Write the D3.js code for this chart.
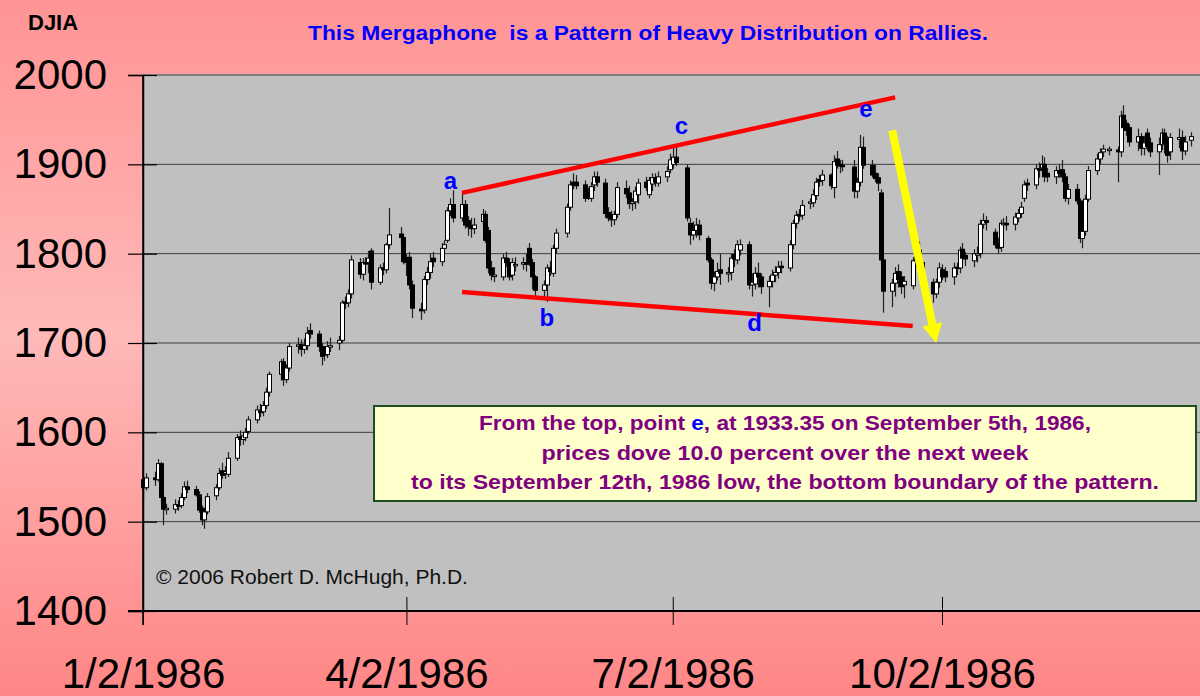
<!DOCTYPE html>
<html>
<head>
<meta charset="utf-8">
<script src="https://cdn.jsdelivr.net/npm/d3@7"></script>
<style>
  html, body { margin: 0; padding: 0; background: #ff9a9a; }
  svg { display: block; font-family: "Liberation Sans", Arial, sans-serif; }
</style>
</head>
<body>
<div id="content"></div>
<script>
// DJIA daily candles, 1986
const dates = [
  "01-02","01-03","01-06","01-07","01-08","01-09","01-10","01-13","01-14","01-15","01-16","01-17","01-20","01-21","01-22","01-23","01-24","01-27","01-28","01-29","01-30","01-31",
  "02-03","02-04","02-05","02-06","02-07","02-10","02-11","02-12","02-13","02-14","02-18","02-19","02-20","02-21","02-24","02-25","02-26","02-27","02-28",
  "03-03","03-04","03-05","03-06","03-07","03-10","03-11","03-12","03-13","03-14","03-17","03-18","03-19","03-20","03-21","03-24","03-25","03-26","03-27","03-31",
  "04-01","04-02","04-03","04-04","04-07","04-08","04-09","04-10","04-11","04-14","04-15","04-16","04-17","04-18","04-21","04-22","04-23","04-24","04-25","04-28","04-29","04-30",
  "05-01","05-02","05-05","05-06","05-07","05-08","05-09","05-12","05-13","05-14","05-15","05-16","05-19","05-20","05-21","05-22","05-23","05-27","05-28","05-29","05-30",
  "06-02","06-03","06-04","06-05","06-06","06-09","06-10","06-11","06-12","06-13","06-16","06-17","06-18","06-19","06-20","06-23","06-24","06-25","06-26","06-27","06-30",
  "07-01","07-02","07-03","07-07","07-08","07-09","07-10","07-11","07-14","07-15","07-16","07-17","07-18","07-21","07-22","07-23","07-24","07-25","07-28","07-29","07-30","07-31",
  "08-01","08-04","08-05","08-06","08-07","08-08","08-11","08-12","08-13","08-14","08-15","08-18","08-19","08-20","08-21","08-22","08-25","08-26","08-27","08-28","08-29",
  "09-02","09-03","09-04","09-05","09-08","09-09","09-10","09-11","09-12","09-15","09-16","09-17","09-18","09-19","09-22","09-23","09-24","09-25","09-26","09-29","09-30",
  "10-01","10-02","10-03","10-06","10-07","10-08","10-09","10-10","10-13","10-14","10-15","10-16","10-17","10-20","10-21","10-22","10-23","10-24","10-27","10-28","10-29","10-30","10-31",
  "11-03","11-04","11-05","11-06","11-07","11-10","11-11","11-12","11-13","11-14","11-17","11-18","11-19","11-20","11-21","11-24","11-25","11-26","11-28",
  "12-01","12-02","12-03","12-04","12-05","12-08","12-09","12-10","12-11","12-12","12-15","12-16","12-17","12-18","12-19","12-22","12-23","12-24","12-26"
];
const opens = [
  1547,1538,1549,1547,1565,1527,1514,1514,1519,1518,1527,1539,1536,1530,1515,1502,1511,1529,1538,1557,1554,1553,
  1571,1595,1592,1594,1601,1614,1624,1623,1630,1645,1665,1679,1659,1672,1698,1698,1693,1697,1714,
  1710,1696,1688,1687,1697,1700,1703,1746,1745,1755,1790,1777,1790,1790,1803,1768,1784,1782,1810,1822,
  1818,1795,1796,1765,1738,1737,1771,1779,1795,1791,1806,1815,1848,1855,1840,1855,1837,1831,1828,1836,1844,1826,
  1784,1776,1774,1795,1790,1776,1788,1790,1790,1806,1790,1774,1759,1765,1784,1778,1806,1823,1852,1880,1880,
  1877,1868,1862,1877,1886,1879,1846,1843,1838,1844,1873,1868,1856,1858,1866,1880,1866,1878,1885,1879,1886,
  1894,1900,1908,1896,1834,1821,1826,1832,1817,1793,1767,1774,1782,1778,1779,1799,1793,1804,1810,1765,1766,1778,
  1774,1763,1769,1776,1779,1786,1784,1810,1834,1844,1843,1857,1857,1865,1883,1882,1888,1874,1906,1900,1899,
  1897,1870,1880,1919,1899,1890,1885,1868,1793,1758,1767,1780,1774,1765,1764,1792,1804,1790,1767,1768,1755,
  1768,1782,1780,1774,1785,1784,1805,1798,1792,1800,1800,1833,1837,1824,1811,1807,1834,1834,1833,1840,1845,1862,1879,
  1877,1895,1896,1900,1890,1886,1893,1894,1886,1862,1872,1859,1817,1825,1861,1893,1906,1914,1917,
  1916,1914,1955,1946,1941,1925,1931,1918,1935,1924,1914,1922,1935,1928,1914,1928,1930,1915,1927
];
const highs = [
  1552,1554,1556,1570,1567,1530,1520,1525,1524,1532,1545,1546,1540,1534,1518,1515,1532,1542,1560,1566,1562,1578,
  1598,1602,1600,1605,1618,1630,1632,1635,1650,1668,1682,1683,1676,1700,1706,1704,1705,1718,1722,
  1714,1700,1692,1702,1706,1708,1748,1752,1760,1798,1795,1795,1796,1803,1806,1788,1790,1812,1851,1830,
  1822,1800,1802,1770,1745,1775,1785,1800,1802,1812,1815,1852,1862,1871,1868,1860,1842,1840,1840,1850,1848,1830,
  1792,1785,1800,1802,1795,1795,1796,1796,1800,1812,1794,1776,1770,1788,1792,1810,1828,1856,1882,1890,1888,
  1882,1874,1880,1892,1892,1884,1852,1848,1848,1880,1882,1876,1862,1875,1884,1886,1886,1890,1890,1892,1898,
  1912,1920,1920,1900,1840,1836,1840,1838,1820,1796,1780,1790,1800,1785,1800,1805,1815,1816,1814,1778,1785,1790,
  1778,1775,1782,1786,1792,1792,1815,1838,1848,1850,1860,1862,1872,1885,1888,1894,1890,1910,1915,1905,1905,
  1905,1885,1933,1931,1905,1900,1890,1872,1796,1772,1785,1788,1780,1775,1796,1810,1814,1793,1775,1772,1772,
  1790,1788,1785,1790,1790,1808,1812,1802,1805,1808,1838,1845,1842,1828,1818,1838,1840,1842,1846,1850,1858,1882,1884,
  1900,1902,1910,1908,1896,1898,1900,1905,1890,1878,1878,1862,1830,1866,1898,1912,1918,1922,1920,
  1920,1960,1966,1950,1945,1940,1935,1932,1940,1930,1930,1940,1940,1932,1935,1940,1938,1932,1936
];
const lows = [
  1525,1535,1540,1545,1520,1496,1508,1509,1512,1515,1524,1532,1528,1510,1496,1492,1508,1524,1535,1548,1548,1550,
  1568,1585,1586,1590,1598,1610,1617,1618,1626,1640,1658,1652,1655,1668,1688,1685,1688,1692,1705,
  1690,1675,1680,1683,1690,1692,1700,1738,1740,1750,1772,1770,1782,1778,1760,1765,1776,1778,1805,1810,
  1788,1775,1760,1728,1726,1733,1765,1772,1785,1786,1800,1812,1842,1835,1836,1828,1820,1818,1822,1830,1812,1778,
  1770,1768,1770,1785,1770,1770,1780,1782,1780,1786,1760,1750,1748,1746,1775,1774,1800,1818,1848,1872,1872,
  1858,1860,1858,1870,1875,1840,1836,1830,1832,1840,1862,1850,1848,1850,1856,1870,1862,1870,1875,1875,1880,
  1890,1895,1898,1836,1810,1815,1818,1815,1790,1760,1758,1770,1765,1768,1770,1785,1788,1798,1760,1752,1760,1762,
  1755,1740,1762,1768,1772,1778,1780,1805,1828,1836,1838,1850,1852,1860,1875,1876,1872,1862,1895,1890,1892,
  1862,1862,1875,1895,1885,1880,1870,1788,1734,1740,1752,1762,1755,1750,1760,1785,1785,1760,1758,1745,1750,
  1762,1770,1768,1765,1776,1778,1790,1786,1785,1790,1795,1828,1826,1806,1800,1802,1828,1826,1826,1835,1840,1858,1870,
  1872,1885,1888,1880,1880,1878,1885,1880,1858,1855,1855,1812,1806,1820,1858,1888,1900,1908,1910,
  1880,1908,1940,1932,1920,1915,1910,1910,1915,1908,1888,1916,1912,1902,1905,1918,1905,1910,1920
];
const closes = [
  1538,1549,1547,1565,1527,1514,1515,1519,1518,1527,1539,1536,1530,1513,1502,1511,1528,1538,1554,1552,1556,1571,
  1594,1592,1596,1600,1614,1625,1622,1630,1645,1665,1679,1659,1672,1696,1698,1693,1697,1711,1710,
  1696,1685,1687,1696,1697,1703,1745,1745,1755,1793,1777,1790,1789,1795,1768,1784,1782,1810,1821,1818,
  1791,1790,1765,1739,1736,1771,1779,1791,1791,1806,1810,1848,1855,1840,1855,1832,1830,1828,1832,1844,1815,1784,
  1776,1776,1795,1790,1774,1790,1788,1790,1788,1790,1774,1759,1765,1784,1780,1806,1823,1852,1877,1877,1876,
  1862,1862,1875,1886,1880,1845,1840,1838,1844,1874,1867,1856,1858,1870,1879,1874,1882,1885,1880,1886,1892,
  1905,1908,1902,1840,1821,1826,1832,1821,1793,1767,1774,1780,1778,1779,1795,1794,1810,1810,1765,1768,1778,1774,
  1763,1769,1776,1779,1785,1785,1810,1834,1843,1842,1854,1858,1866,1880,1881,1888,1876,1903,1899,1898,1898,
  1870,1880,1919,1899,1888,1884,1879,1793,1758,1767,1778,1771,1763,1769,1792,1798,1790,1767,1770,1755,1768,
  1784,1774,1774,1784,1784,1804,1795,1794,1800,1800,1833,1837,1835,1810,1806,1834,1834,1833,1841,1845,1852,1877,1877,
  1895,1894,1900,1886,1886,1893,1890,1886,1862,1872,1859,1817,1825,1861,1893,1906,1913,1917,1917,
  1914,1954,1941,1938,1925,1931,1918,1924,1920,1914,1922,1935,1923,1910,1930,1930,1915,1925,1931
];

const yTicks = [1400, 1500, 1600, 1700, 1800, 1900, 2000];
const xTickDates = ["01-02", "04-02", "07-02", "10-02"];
const xTickLabels = ["1/2/1986", "4/2/1986", "7/2/1986", "10/2/1986"];

// megaphone boundaries and pattern points (date, value)
const upperLine = [["04-21", 1868], ["09-16", 1975]];
const lowerLine = [["04-21", 1757], ["09-22", 1719]];
const arrowLine = [["09-15", 1938], ["09-30", 1700]];
const pointLabels = ["a", "b", "c", "d", "e"];
const pointDates = ["04-17", "05-20", "07-05", "07-30", "09-06"];
const pointValues = [1872, 1719, 1934, 1713, 1953];

const boxLines = [
  ["From the top, point ", "e", ", at 1933.35 on September 5th, 1986,"],
  ["prices dove 10.0 percent over the next week"],
  ["to its September 12th, 1986 low, the bottom boundary of the pattern."]
];

const day = s => new Date(Date.UTC(1986, +s.slice(0, 2) - 1, +s.slice(3, 5)));

const width = 1200;
const height = 696;
const plotLeft = 143, plotTop = 75, plotBottom = 611;

const svg = d3.select("#content").append("svg")
    .attr("width", width)
    .attr("height", height);

const defs = svg.append("defs");
const grad = defs.append("linearGradient")
    .attr("id", "bg")
    .attr("x1", 0).attr("y1", 0).attr("x2", 0).attr("y2", 1);
grad.append("stop").attr("offset", "0%").attr("stop-color", "#ff9494");
grad.append("stop").attr("offset", "48%").attr("stop-color", "#ffb9b9");
grad.append("stop").attr("offset", "100%").attr("stop-color", "#ff8686");

svg.append("rect").attr("width", width).attr("height", height).attr("fill", "url(#bg)");

const x = d3.scaleUtc()
    .domain([day("01-02"), day("10-02")])
    .range([plotLeft, 942]);
const y = d3.scaleLinear()
    .domain([1400, 2000])
    .range([plotBottom, plotTop]);

// plot area
svg.append("rect")
    .attr("x", plotLeft).attr("y", plotTop)
    .attr("width", width - plotLeft).attr("height", plotBottom - plotTop)
    .attr("fill", "#c0c0c0");

svg.append("g")
    .selectAll("line")
    .data(yTicks.filter(v => v > 1400 && v < 2000))
    .join("line")
    .attr("x1", plotLeft).attr("x2", width)
    .attr("y1", d => y(d)).attr("y2", d => y(d))
    .attr("stroke", "#3c3c3c")
    .attr("stroke-width", 1);

svg.append("line")
    .attr("x1", plotLeft).attr("x2", width)
    .attr("y1", plotTop).attr("y2", plotTop)
    .attr("stroke", "#808080").attr("stroke-width", 2);

// candles
const data = dates.map((d, i) => ({
  date: day(d), o: opens[i], h: highs[i], l: lows[i], c: closes[i]
}));

const candles = svg.append("g");
candles.selectAll("line")
    .data(data)
    .join("line")
    .attr("x1", d => Math.round(x(d.date)) + 0.5)
    .attr("x2", d => Math.round(x(d.date)) + 0.5)
    .attr("y1", d => y(d.h))
    .attr("y2", d => y(d.l))
    .attr("stroke", "#202020")
    .attr("stroke-width", 1.2);
candles.selectAll("rect")
    .data(data)
    .join("rect")
    .attr("x", d => Math.round(x(d.date)) - 1.5)
    .attr("width", 4)
    .attr("y", d => y(Math.max(d.o, d.c)))
    .attr("height", d => Math.max(1.5, Math.abs(y(d.o) - y(d.c))))
    .attr("fill", d => d.c >= d.o ? "#ffffff" : "#000000")
    .attr("stroke", "#000")
    .attr("stroke-width", 1);

// axes
const yAxis = d3.axisLeft(y)
    .tickValues(yTicks)
    .tickFormat(d3.format("d"))
    .tickSize(15)
    .tickPadding(21);
const gy = svg.append("g")
    .attr("transform", `translate(${plotLeft},0)`)
    .call(yAxis);
gy.select(".domain").attr("stroke", "#000").attr("stroke-width", 1.5);
gy.selectAll(".tick line").attr("x2", -15).attr("x1", 14).attr("stroke", "#000").attr("stroke-width", 1.2);
gy.selectAll(".tick text")
    .attr("font-size", 42)
    .attr("font-family", "Liberation Sans, Arial, sans-serif")
    .attr("fill", "#000");

const xAxis = d3.axisBottom(x)
    .tickValues(xTickDates.map(day))
    .tickFormat((d, i) => xTickLabels[i])
    .tickSize(14)
    .tickPadding(33);
const gx = svg.append("g")
    .attr("transform", `translate(0,${plotBottom})`)
    .call(xAxis);
gx.select(".domain").attr("d", `M${plotLeft - 15},0H${width}`).attr("stroke", "#000").attr("stroke-width", 2);
gx.selectAll(".tick line").attr("y1", -14).attr("y2", 14).attr("stroke", "#000").attr("stroke-width", 1);
gx.selectAll(".tick text")
    .attr("font-size", 42)
    .attr("font-family", "Liberation Sans, Arial, sans-serif")
    .attr("fill", "#000");

svg.append("line")
    .attr("x1", plotLeft).attr("x2", plotLeft)
    .attr("y1", plotTop).attr("y2", plotBottom + 14)
    .attr("stroke", "#000").attr("stroke-width", 1.5);

// megaphone lines
const trend = d3.line().x(d => x(day(d[0]))).y(d => y(d[1]));
[upperLine, lowerLine].forEach(seg => {
  svg.append("path")
      .attr("d", trend(seg))
      .attr("stroke", "#ff0000")
      .attr("stroke-width", 4.5)
      .attr("fill", "none");
});

// yellow arrow
const ax1 = x(day(arrowLine[0][0])), ay1 = y(arrowLine[0][1]);
const ax2 = x(day(arrowLine[1][0])), ay2 = y(arrowLine[1][1]);
const ang = Math.atan2(ay2 - ay1, ax2 - ax1);
const headLen = 19, headHalf = 10;
const bx = ax2 - headLen * Math.cos(ang), by = ay2 - headLen * Math.sin(ang);
svg.append("line")
    .attr("x1", ax1).attr("y1", ay1).attr("x2", bx).attr("y2", by)
    .attr("stroke", "#ffff00").attr("stroke-width", 8);
svg.append("path")
    .attr("d", `M${ax2},${ay2}L${bx - headHalf * Math.sin(ang)},${by + headHalf * Math.cos(ang)}L${bx + headHalf * Math.sin(ang)},${by - headHalf * Math.cos(ang)}Z`)
    .attr("fill", "#ffff00");

// point labels
svg.append("g")
    .selectAll("text")
    .data(pointLabels)
    .join("text")
    .attr("x", (d, i) => x(day(pointDates[i])))
    .attr("y", (d, i) => y(pointValues[i]))
    .attr("text-anchor", "middle")
    .attr("font-size", 24)
    .attr("font-weight", "bold")
    .attr("fill", "#0000ff")
    .text(d => d);

// titles
svg.append("text")
    .attr("x", 28).attr("y", 30)
    .attr("font-size", 22).attr("font-weight", "bold")
    .attr("fill", "#000")
    .text("DJIA");

svg.append("text")
    .attr("x", 308).attr("y", 40)
    .attr("font-size", 20.5).attr("font-weight", "bold")
    .attr("fill", "#0000ff")
    .attr("textLength", 680)
    .attr("lengthAdjust", "spacingAndGlyphs")
    .style("white-space", "pre")
    .text("This Mergaphone  is a Pattern of Heavy Distribution on Rallies.");

svg.append("text")
    .attr("x", 156).attr("y", 584)
    .attr("font-size", 21)
    .attr("fill", "#111")
    .text("© 2006 Robert D. McHugh, Ph.D.");

// annotation box
svg.append("rect")
    .attr("x", 374).attr("y", 406)
    .attr("width", 822).attr("height", 95)
    .attr("fill", "#ffffcc")
    .attr("stroke", "#1e4d1e")
    .attr("stroke-width", 2);

const boxWidths = [612, 487, 748];
boxLines.forEach((parts, i) => {
  const t = svg.append("text")
      .attr("x", 785).attr("y", 430 + i * 29.5)
      .attr("text-anchor", "middle")
      .attr("font-size", 21)
      .attr("font-weight", "bold")
      .attr("fill", "#800080")
      .attr("textLength", boxWidths[i])
      .attr("lengthAdjust", "spacingAndGlyphs");
  parts.forEach(p => {
    t.append("tspan")
        .attr("fill", p === "e" ? "#0000ff" : "#800080")
        .text(p);
  });
});
</script>
</body>
</html>
